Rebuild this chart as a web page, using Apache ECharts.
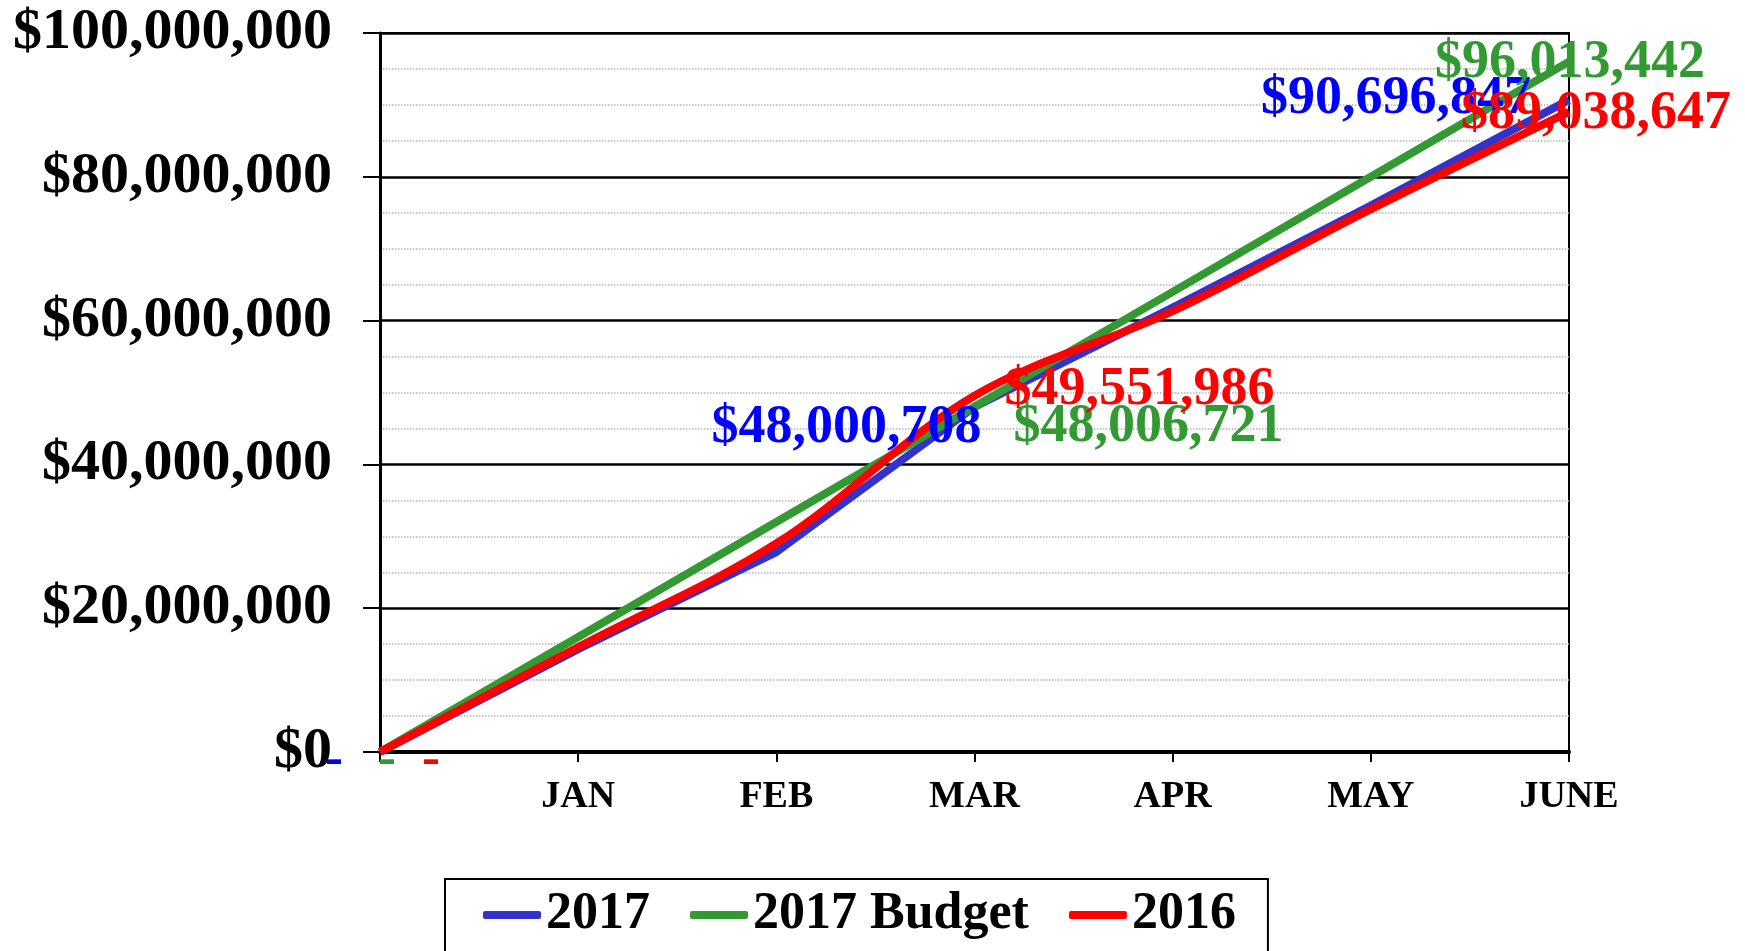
<!DOCTYPE html>
<html>
<head>
<meta charset="utf-8">
<script src="https://cdn.jsdelivr.net/npm/echarts@6/dist/echarts.min.js"></script>
<style>
  html, body { margin: 0; padding: 0; background: #fff; }
  #chart { width: 1745px; height: 951px; }
</style>
</head>
<body>
<div id="chart"></div>
<script>
// months on the x axis (first slot is the starting point, unlabeled)
const months = ['', 'JAN', 'FEB', 'MAR', 'APR', 'MAY', 'JUNE'];
// cumulative dollars
const actual2017 = [0, 14300000, 27800000, 48000708, 61800000, 76000000, 90696847];
const budget2017 = [0, 16000000, 32000000, 48006721, 64000000, 80000000, 96013442];
const actual2016 = [0, 14600000, 29000000, 49551986, 61300000, 75500000, 89038647];
// y axis ticks
const yMin = 0;
const yMax = 100000000;
const yStep = 20000000;

const serif = 'Liberation Serif';
const money = v => '$' + v.toLocaleString('en-US');

// where each series puts its data labels (index -> [dx, dy] from the point)
const blueLabels = { 0: [-46, 9], 3: [-128, 21], 6: [-173, -1] };
const greenLabels = { 0: [7, 9], 3: [174, 20], 6: [1, 1] };
const redLabels = { 0: [51, 9], 3: [165, -6], 6: [27, 2] };

const withLabels = (values, offsets) => values.map((v, i) =>
  offsets[i] ? { value: v, label: { show: true, offset: offsets[i] } } : v);

const lineSeries = (name, values, lineColor, textColor, offsets, smooth) => ({
  name,
  type: 'line',
  data: withLabels(values, offsets),
  smooth: smooth || false,
  symbol: 'circle',
  symbolSize: 1,
  itemStyle: { color: lineColor },
  lineStyle: { color: lineColor, width: 8 },
  label: {
    show: false,
    position: 'inside',
    color: textColor,
    fontFamily: serif,
    fontWeight: 'bold',
    fontSize: 54,
    formatter: p => p.dataIndex === 0 ? '-' : money(p.value)
  },
  animation: false
});

const chart = echarts.init(document.getElementById('chart'));
chart.setOption({
  backgroundColor: '#fff',
  grid: {
    left: 380, right: 176, top: 33, bottom: 199,
    show: true, borderColor: '#000', borderWidth: 2
  },
  legend: {
    left: 445,
    top: 879,
    icon: 'roundRect',
    itemWidth: 58,
    itemHeight: 8,
    itemGap: 40,
    borderColor: '#000',
    borderWidth: 2,
    padding: [8, 32, 60, 38],
    textStyle: { fontFamily: serif, fontWeight: 'bold', fontSize: 52, lineHeight: 56, color: '#000' },
    data: ['2017', '2017 Budget', '2016']
  },
  xAxis: {
    type: 'category',
    boundaryGap: false,
    data: months,
    axisLine: { lineStyle: { color: '#000', width: 4 } },
    axisTick: { show: true, interval: 0, length: 10, lineStyle: { color: '#000', width: 2 } },
    axisLabel: {
      interval: 0,
      margin: 26,
      color: '#000',
      fontFamily: serif,
      fontWeight: 'bold',
      fontSize: 38
    },
    splitLine: { show: false }
  },
  yAxis: {
    type: 'value',
    min: yMin,
    max: yMax,
    interval: yStep,
    axisLine: { show: true, lineStyle: { color: '#000', width: 3 } },
    axisTick: { show: true, length: 17, lineStyle: { color: '#000', width: 2 } },
    axisLabel: {
      margin: 48,
      color: '#000',
      fontFamily: serif,
      fontWeight: 'bold',
      fontSize: 58,
      formatter: v => money(v)
    },
    splitLine: { show: true, lineStyle: { color: '#000', width: 2.5 } },
    minorTick: { show: false, splitNumber: 4 },
    minorSplitLine: { show: true, lineStyle: { color: '#b4b4b4', width: 1.5, type: 'dotted' } }
  },
  series: [
    lineSeries('2017', actual2017, '#3333CC', '#0000FF', blueLabels),
    lineSeries('2017 Budget', budget2017, '#339933', '#339933', greenLabels),
    lineSeries('2016', actual2016, '#FF0000', '#FF0000', redLabels, 0.35)
  ]
});
</script>
</body>
</html>
